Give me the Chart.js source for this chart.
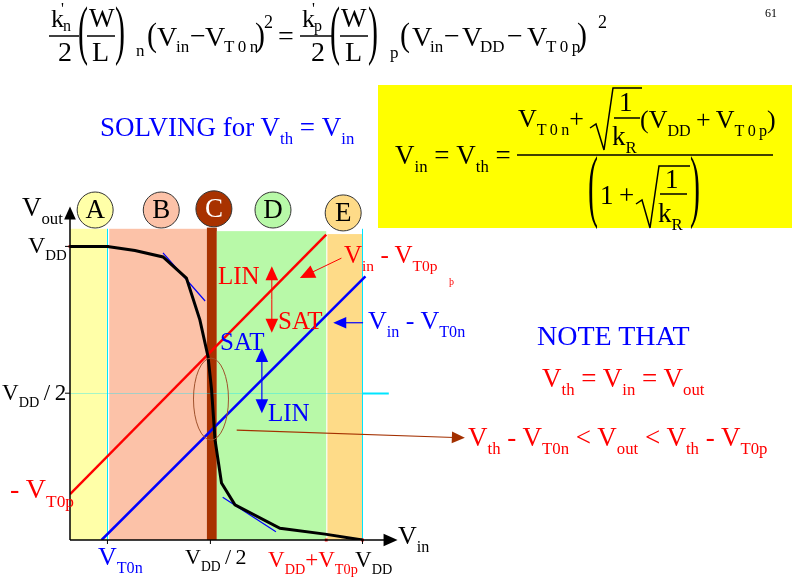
<!DOCTYPE html>
<html lang="en">
<head>
<meta charset="UTF-8">
<title>CMOS inverter switching threshold</title>
<script src="https://cdn.jsdelivr.net/npm/chart.js"></script>
<style>
    html, body { margin: 0; padding: 0; background: #fff; }
    #slide { position: relative; width: 792px; height: 584px; overflow: hidden; font-family: "Liberation Serif", "DejaVu Serif", serif; }
    #vtc { position: absolute; left: 0; top: 0; }
    #ybox { position: absolute; left: 378px; top: 85px; width: 414px; height: 143px; background: #ffff00; }
    #marks { position: absolute; left: 0; top: 0; }
    .t { position: absolute; white-space: nowrap; line-height: 1; }
    .t sub { font-size: 0.62em; vertical-align: -0.5em; line-height: 0; }
    .t sup { font-size: 0.62em; vertical-align: 0.75em; line-height: 0; }
</style>
</head>
<body>
<div id="slide">
    <div id="ybox"></div>
    <canvas id="vtc" width="792" height="584"></canvas>
    <svg id="marks" width="792" height="584" fill="none" stroke="#000" stroke-width="1.5">
        <!-- fraction bars, top equation -->
        <line x1="49" y1="36" x2="79" y2="36"/>
        <line x1="87" y1="36" x2="115" y2="36"/>
        <line x1="300" y1="36" x2="334" y2="36"/>
        <line x1="340" y1="36" x2="368" y2="36"/>
        <!-- yellow box formula -->
        <line x1="517" y1="155" x2="773" y2="155"/>
        <line x1="614" y1="118" x2="640" y2="118"/>
        <line x1="660" y1="194" x2="687" y2="194"/>
        <path d="M590,128 L596,124 L604,150 L613,88 L642,88"/>
        <path d="M636,204 L642,200 L650,228 L659,166 L690,166"/>
    </svg>
</div>

<script>
    // Voltage transfer curve, VDD = 5 units on both axes
    const vin = [0, 0.64, 1.11, 1.59, 1.99, 2.22, 2.36, 2.42, 2.48, 2.59, 2.82, 3.59, 4.36, 5.0];
    const vout = [5.0, 5.0, 4.93, 4.82, 4.46, 3.75, 3.12, 2.56, 1.70, 0.97, 0.60, 0.20, 0.10, 0.0];

    // Vin - VT0p (red) and Vin - VT0n (blue) boundaries
    const pLineX = [0, 4.38];
    const pLineY = [0.78, 5.20];
    const nLineX = [0.54, 5.05];
    const nLineY = [0, 4.49];

    // slope -1 tangents
    const tanTopX = [1.59, 2.31];
    const tanTopY = [4.89, 4.07];
    const tanBotX = [2.61, 3.52];
    const tanBotY = [0.73, 0.14];

    // operating regions
    const regionNames = ['A', 'B', 'C', 'D', 'E'];
    const regionStart = [0, 0.67, 2.34, 2.51, 4.40];
    const regionEnd = [0.63, 2.34, 2.51, 4.38, 5.0];
    const regionTop = [5.30, 5.30, 5.32, 5.26, 5.21];
    const regionLabelX = [0.43, 1.56, 2.46, 3.47, 4.67];
    const regionLabelY = [5.62, 5.62, 5.64, 5.62, 5.57];

    // key voltages on the axes
    const markX = [0, 0.64, 4.38, 5.0];
    const markY = [5.0, 5.0, 0, 0];

    const regionColors = ['#ffffa8', '#fcc2a8', '#a83200', '#b8f9a8', '#fedb88'];
    const regionText = ['#000', '#000', '#fff', '#000', '#000'];

    const toPts = (xs, ys) => xs.map((x, i) => ({ x, y: ys[i] }));

    function arrowHead(ctx, x0, y0, x1, y1, head) {
        const a = Math.atan2(y1 - y0, x1 - x0);
        const w = head * 0.45;
        ctx.beginPath();
        ctx.moveTo(x1, y1);
        ctx.lineTo(x1 - head * Math.cos(a) + w * Math.sin(a), y1 - head * Math.sin(a) - w * Math.cos(a));
        ctx.lineTo(x1 - head * Math.cos(a) - w * Math.sin(a), y1 - head * Math.sin(a) + w * Math.cos(a));
        ctx.closePath();
        ctx.fill();
    }

    function arrow(ctx, x0, y0, x1, y1, color, head, width) {
        const a = Math.atan2(y1 - y0, x1 - x0);
        ctx.strokeStyle = color;
        ctx.fillStyle = color;
        ctx.lineWidth = width;
        ctx.beginPath();
        ctx.moveTo(x0, y0);
        ctx.lineTo(x1 - head * 0.8 * Math.cos(a), y1 - head * 0.8 * Math.sin(a));
        ctx.stroke();
        arrowHead(ctx, x0, y0, x1, y1, head);
    }

    const slideDecor = {
        id: 'slideDecor',
        beforeDatasetsDraw(chart) {
            const { ctx, scales: { x, y } } = chart;
            const y0 = y.getPixelForValue(0);
            ctx.save();
            regionStart.forEach((s, i) => {
                const l = x.getPixelForValue(s);
                const r = x.getPixelForValue(regionEnd[i]);
                const t = y.getPixelForValue(regionTop[i]);
                ctx.fillStyle = regionColors[i];
                ctx.fillRect(l, t, r - l, y0 - t);
            });
            // cyan guides
            ctx.strokeStyle = '#00e5ff';
            ctx.lineWidth = 1;
            [0.64, 5.0].forEach(v => {
                const px = Math.round(x.getPixelForValue(v)) + 0.5;
                ctx.beginPath();
                ctx.moveTo(px, y.getPixelForValue(5.30));
                ctx.lineTo(px, y0);
                ctx.stroke();
            });
            const hy = Math.round(y.getPixelForValue(2.5)) + 0.5;
            ctx.strokeStyle = 'rgba(0, 229, 255, 0.35)';
            ctx.beginPath();
            ctx.moveTo(x.getPixelForValue(0), hy);
            ctx.lineTo(x.getPixelForValue(5.0), hy);
            ctx.stroke();
            ctx.strokeStyle = '#00e5ff';
            ctx.lineWidth = 2;
            ctx.beginPath();
            ctx.moveTo(x.getPixelForValue(5.0), hy);
            ctx.lineTo(x.getPixelForValue(5.45), hy);
            ctx.stroke();
            ctx.restore();
        },
        afterDatasetsDraw(chart) {
            const { ctx, scales: { x, y } } = chart;
            const px = v => x.getPixelForValue(v);
            const py = v => y.getPixelForValue(v);
            ctx.save();

            // axes with arrows
            ctx.strokeStyle = '#000';
            ctx.fillStyle = '#000';
            ctx.lineWidth = 1.5;
            ctx.beginPath();
            ctx.moveTo(px(0), py(0));
            ctx.lineTo(px(0), py(5.52));
            ctx.moveTo(px(0), py(0));
            ctx.lineTo(px(5.40), py(0));
            ctx.stroke();
            arrowHead(ctx, px(0), py(0), px(0), py(5.68), 13);
            arrowHead(ctx, px(0), py(0), px(5.60), py(0), 14);
            ctx.lineWidth = 1;
            [0.64, 2.40, 5.0].forEach(v => {
                ctx.beginPath();
                ctx.moveTo(px(v), py(0));
                ctx.lineTo(px(v), py(0) + 4);
                ctx.stroke();
            });
            [5.0, 2.5].forEach(v => {
                ctx.beginPath();
                ctx.moveTo(px(0) - 5, py(v));
                ctx.lineTo(px(0), py(v));
                ctx.stroke();
            });

            // Vth region ellipse
            ctx.strokeStyle = '#a0522d';
            ctx.lineWidth = 1;
            ctx.beginPath();
            ctx.ellipse(px(2.41), py(2.40), 17.5, 41, 0, 0, Math.PI * 2);
            ctx.stroke();

            // pointer arrows
            arrow(ctx, px(4.64), py(4.80), px(3.93), py(4.46), '#ff0000', 15, 1);
            arrow(ctx, px(5.01), py(3.70), px(4.50), py(3.70), '#0000ff', 13, 1.2);
            arrow(ctx, px(2.85), py(1.87), px(6.75), py(1.74), '#a33000', 13, 1.2);

            // LIN / SAT double arrows
            const mid1 = (4.66 + 3.53) / 2;
            arrow(ctx, px(3.45), py(mid1), px(3.45), py(4.66), '#ff0000', 14, 1);
            arrow(ctx, px(3.45), py(mid1), px(3.45), py(3.53), '#ff0000', 14, 1);
            const mid2 = (3.27 + 2.16) / 2;
            arrow(ctx, px(3.28), py(mid2), px(3.28), py(3.27), '#0000ff', 14, 1.2);
            arrow(ctx, px(3.28), py(mid2), px(3.28), py(2.16), '#0000ff', 14, 1.2);

            // region letters
            ctx.font = '27px "Liberation Serif"';
            ctx.textAlign = 'center';
            ctx.textBaseline = 'middle';
            regionNames.forEach((n, i) => {
                ctx.fillStyle = regionText[i];
                ctx.fillText(n, px(regionLabelX[i]), py(regionLabelY[i]) + 1);
            });
            ctx.restore();
        }
    };

    const ctx = document.getElementById('vtc').getContext('2d');
    new Chart(ctx, {
        type: 'scatter',
        data: {
            datasets: [
                { label: 'Vout', data: toPts(vin, vout), showLine: true, borderColor: '#000', borderWidth: 3, pointRadius: 0 },
                { label: 'markers', data: toPts(markX, markY), pointStyle: 'rect', pointRadius: 2, backgroundColor: '#ff0000', borderWidth: 0, clip: false },
                { label: 'tangent top', data: toPts(tanTopX, tanTopY), showLine: true, borderColor: '#0000ff', borderWidth: 1.2, pointRadius: 0 },
                { label: 'tangent bottom', data: toPts(tanBotX, tanBotY), showLine: true, borderColor: '#0000ff', borderWidth: 1.2, pointRadius: 0 },
                { label: 'Vin - VT0p', data: toPts(pLineX, pLineY), showLine: true, borderColor: '#ff0000', borderWidth: 2.5, pointRadius: 0 },
                { label: 'Vin - VT0n', data: toPts(nLineX, nLineY), showLine: true, borderColor: '#0000ff', borderWidth: 2.5, pointRadius: 0 },
                { label: 'regions', data: toPts(regionLabelX, regionLabelY), pointRadius: 18, pointBackgroundColor: regionColors, pointBorderColor: '#333', pointBorderWidth: 1, clip: false }
            ]
        },
        options: {
            responsive: false,
            animation: false,
            devicePixelRatio: 1,
            layout: { padding: { left: 70, top: 210, right: 395, bottom: 44 } },
            scales: {
                x: { type: 'linear', min: 0, max: 5.59, display: false },
                y: { type: 'linear', min: 0, max: 5.62, display: false }
            },
            plugins: { legend: { display: false }, tooltip: { enabled: false } }
        },
        plugins: [slideDecor]
    });

    // text of the slide
    const slide = document.getElementById('slide');
    function put(x, base, size, color, html) {
        const el = document.createElement('div');
        el.className = 't';
        el.style.left = x + 'px';
        el.style.top = (base - 0.8375 * size) + 'px';
        el.style.fontSize = size + 'px';
        el.style.color = color;
        el.innerHTML = html;
        slide.appendChild(el);
    }
    function bigParen(ch, x, y0, y1) {
        const f = 30;
        const k = (y1 - y0) / (0.871 * f);
        const el = document.createElement('div');
        el.className = 't';
        el.style.left = x + 'px';
        el.style.top = (y0 - 0.1435 * f * k) + 'px';
        el.style.fontSize = f + 'px';
        el.style.transformOrigin = 'left top';
        el.style.transform = 'scaleY(' + k + ')';
        el.textContent = ch;
        slide.appendChild(el);
    }

    const BLK = '#000', RED = '#ff0000', BLU = '#0000ff';
    put(765, 17, 12, BLK, '61');

    // top equation
    put(51, 28, 26, BLK, 'k');
    put(61, 14, 16, BLK, "'");
    put(63, 31, 16, BLK, 'n');
    put(58, 61, 28, BLK, '2');
    bigParen('(', 78, 6, 63);
    put(89, 28, 27, BLK, 'W');
    put(92, 61, 28, BLK, 'L');
    bigParen(')', 115, 6, 63);
    put(136, 56, 17, BLK, 'n');
    bigParen('(', 147, 22, 52);
    put(157, 46, 28, BLK, 'V');
    put(176, 52, 17, BLK, 'in');
    put(190, 45, 28, BLK, '−');
    put(205, 46, 28, BLK, 'V');
    put(224, 52, 17, BLK, 'T&thinsp;0&thinsp;n');
    bigParen(')', 255, 22, 52);
    put(264, 28, 18, BLK, '2');
    put(278, 45, 28, BLK, '=');
    put(302, 28, 26, BLK, 'k');
    put(312, 14, 16, BLK, "'");
    put(314, 31, 16, BLK, 'p');
    put(311, 61, 28, BLK, '2');
    bigParen('(', 330, 6, 63);
    put(341, 28, 27, BLK, 'W');
    put(345, 61, 28, BLK, 'L');
    bigParen(')', 368, 6, 63);
    put(390, 58, 17, BLK, 'p');
    bigParen('(', 400, 22, 52);
    put(412, 46, 28, BLK, 'V');
    put(430, 52, 17, BLK, 'in');
    put(444, 45, 28, BLK, '−');
    put(462, 46, 28, BLK, 'V');
    put(480, 52, 17, BLK, 'DD');
    put(507, 45, 28, BLK, '−');
    put(527, 46, 28, BLK, 'V');
    put(546, 52, 17, BLK, 'T&thinsp;0&thinsp;p');
    bigParen(')', 577, 22, 52);
    put(598, 28, 18, BLK, '2');

    // yellow box formula
    put(395, 165, 27, BLK, 'V<sub>in</sub>&nbsp;=&nbsp;V<sub>th</sub>&nbsp;=');
    put(518, 128, 26, BLK, 'V<sub>T&thinsp;0&thinsp;n</sub>+');
    put(619, 112, 27, BLK, '1');
    put(612, 146, 27, BLK, 'k<sub>R</sub>');
    put(640, 129, 26, BLK, '(V<sub>DD</sub>&thinsp;+&thinsp;V<sub>T&thinsp;0&thinsp;p</sub>)');
    bigParen('(', 588, 157, 227);
    put(600, 205, 27, BLK, '1&thinsp;+');
    put(665, 189, 27, BLK, '1');
    put(658, 223, 27, BLK, 'k<sub>R</sub>');
    bigParen(')', 690, 157, 227);

    put(100, 137, 27, BLU, 'SOLVING for V<sub>th</sub>&nbsp;=&nbsp;V<sub>in</sub>');

    // axis labels
    put(22, 217, 27, BLK, 'V<sub>out</sub>');
    put(28, 253, 24, BLK, 'V<sub>DD</sub>');
    put(2, 400, 23, BLK, 'V<sub>DD</sub>&thinsp;/&thinsp;2');
    put(10, 498, 28, RED, '- V<sub>T0p</sub>');
    put(98, 566, 26, BLU, 'V<sub>T0n</sub>');
    put(185, 564, 22, BLK, 'V<sub>DD</sub>&thinsp;/&thinsp;2');
    put(268, 567, 23, RED, 'V<sub>DD</sub>+V<sub>T0p</sub>');
    put(355, 567, 23, BLK, 'V<sub>DD</sub>');
    put(398, 545, 26, BLK, 'V<sub>in</sub>');

    // region annotations
    put(218, 284, 25, RED, 'LIN');
    put(278, 329, 25, RED, 'SAT');
    put(220, 350, 25, BLU, 'SAT');
    put(268, 421, 25, BLU, 'LIN');
    put(344, 263, 25, RED, 'V<sub>in</sub> - V<sub>T0p</sub>');
    put(449, 285, 10, RED, 'þ');
    put(368, 330, 26, BLU, 'V<sub>in</sub> - V<sub>T0n</sub>');

    put(537, 345, 28, BLU, 'NOTE THAT');
    put(542, 388, 27, RED, 'V<sub>th</sub> = V<sub>in</sub> = V<sub>out</sub>');
    put(468, 447, 27, RED, 'V<sub>th</sub> - V<sub>T0n</sub> &lt; V<sub>out</sub> &lt; V<sub>th</sub> - V<sub>T0p</sub>');
</script>
</body>
</html>
